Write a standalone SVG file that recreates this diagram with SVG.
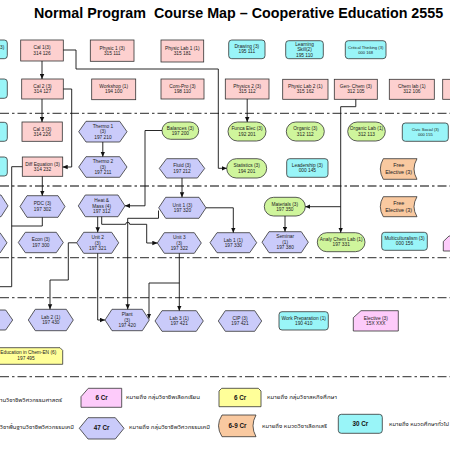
<svg xmlns="http://www.w3.org/2000/svg" width="450" height="450" viewBox="0 0 450 450">
<style>
.bg{fill:#fff}
.pk{fill:#FDD0CF;stroke:#333;stroke-width:0.8}
.cy{fill:#99F5F8;stroke:#333;stroke-width:0.8}
.hx{fill:#CACBFA;stroke:#333;stroke-width:0.8}
.gr{fill:#CFF59C;stroke:#333;stroke-width:0.8}
.or{fill:#F9C9A0;stroke:#333;stroke-width:0.8}
.ye{fill:#FFFF99;stroke:#333;stroke-width:0.8}
.mg{fill:#FDCBFA;stroke:#333;stroke-width:0.8}
text{font-family:"Liberation Sans",Arial,"Noto Sans Thai","Noto Sans","DejaVu Sans",sans-serif;fill:#222}
.t{font-size:4.8px;text-anchor:middle}
.ts{font-size:4.1px;text-anchor:middle}
.to{font-size:5.4px;text-anchor:middle}
.lg{font-size:6.3px;font-weight:bold;text-anchor:middle;fill:#111}
.th{font-size:5.8px}
.title{font-size:14.3px;font-weight:bold;fill:#000;white-space:pre}
.sep{stroke:#555;stroke-width:1.3;stroke-dasharray:9 3 2.5 3;fill:none}
.cn{stroke:#111;stroke-width:0.9;fill:none}
.ar{marker-end:url(#a)}
</style>
<defs>
<marker id="a" viewBox="0 0 10 10" refX="10" refY="5" markerWidth="5" markerHeight="5" markerUnits="userSpaceOnUse" orient="auto"><path d="M0,0.5 L10,5 L0,9.5z" fill="#111"/></marker>
</defs>
<rect class="bg" x="0" y="0" width="450" height="450"/>
<text class="title" x="34" y="17.5">Normal Program  Course Map – Cooperative Education 2555</text>

<g id="separators">
<line class="sep" x1="0" y1="113.3" x2="450" y2="113.3"/>
<line class="sep" x1="0" y1="186" x2="450" y2="186"/>
<line class="sep" x1="0" y1="257.7" x2="450" y2="257.7"/>
<line class="sep" x1="0" y1="297.7" x2="450" y2="297.7"/>
<line class="sep" x1="0" y1="376.7" x2="450" y2="376.7"/>
</g>

<!-- Row 1 -->
<g id="n-left1"><rect class="cy" x="-6" y="40" width="13.3" height="18.7" rx="3"/><text class="t" x="0" y="48.5" style="text-anchor:start">3)</text></g>
<g id="n-cal1"><rect class="pk" x="20.7" y="40" width="42.6" height="21"/><text class="t" x="42" y="49.4">Cal 1(3)</text><text class="t" x="42" y="54.6">314 126</text></g>
<g id="n-physic1"><rect class="pk" x="90.3" y="40" width="43.7" height="21.3"/><text class="t" x="112.2" y="49.5">Physic 1 (3)</text><text class="t" x="112.2" y="54.7">315 111</text></g>
<g id="n-physlab1"><rect class="pk" x="161" y="40" width="42.7" height="22"/><text class="t" x="182.3" y="49.9">Physic Lab 1 (1)</text><text class="t" x="182.3" y="55.1">315 181</text></g>
<g id="n-drawing"><rect class="cy" x="228.7" y="40" width="36.3" height="18.7" rx="3"/><text class="t" x="246.8" y="48.2">Drawing (3)</text><text class="t" x="246.8" y="53.4">195 111</text></g>
<g id="n-learning"><rect class="cy" x="285.7" y="40.7" width="37.6" height="18" rx="3"/><text class="t" x="304.5" y="45.9">Learning</text><text class="t" x="304.5" y="51.4">Skill(2)</text><text class="t" x="304.5" y="56.9">195 110</text></g>
<g id="n-critical"><rect class="cy" x="345.3" y="40.7" width="40.7" height="18" rx="3"/><text class="ts" x="365.7" y="48.6">Critical Thinking (3)</text><text class="ts" x="365.7" y="53.8">000 168</text></g>

<!-- Row 2 -->
<g id="n-left2"><rect class="cy" x="-6" y="79" width="13.3" height="19.3" rx="3"/></g>
<g id="n-cal2"><rect class="pk" x="21.7" y="79" width="41.6" height="20"/><text class="t" x="42.5" y="87.9">Cal 2 (3)</text><text class="t" x="42.5" y="93.1">314 127</text></g>
<g id="n-workshop"><rect class="pk" x="91.7" y="79" width="44" height="20.7"/><text class="t" x="113.7" y="88.2">Workshop (1)</text><text class="t" x="113.7" y="93.4">194 100</text></g>
<g id="n-compro"><rect class="pk" x="161" y="79" width="43" height="20"/><text class="t" x="182.5" y="87.9">Com-Pro (3)</text><text class="t" x="182.5" y="93.1">198 110</text></g>
<g id="n-physics2"><rect class="pk" x="225.3" y="79" width="43.7" height="20"/><text class="t" x="247.2" y="87.9">Physics 2 (3)</text><text class="t" x="247.2" y="93.1">315 112</text></g>
<g id="n-physlab2"><rect class="pk" x="282.7" y="79.3" width="45.3" height="20"/><text class="t" x="305.3" y="88.2">Physic Lab 2 (1)</text><text class="t" x="305.3" y="93.4">315 162</text></g>
<g id="n-genchem"><rect class="pk" x="334.3" y="79.3" width="43" height="20"/><text class="t" x="355.8" y="88.2">Gen- Chem (3)</text><text class="t" x="355.8" y="93.4">312 105</text></g>
<g id="n-chemlab"><rect class="pk" x="389.3" y="79.3" width="45" height="20"/><text class="t" x="411.8" y="88.2">Chem lab (1)</text><text class="t" x="411.8" y="93.4">312 106</text></g>
<g id="n-right2"><rect class="pk" x="442.7" y="79.3" width="17" height="20"/></g>

<!-- Row 3 -->
<g id="n-left3"><rect class="cy" x="-6" y="122.3" width="13.3" height="19" rx="3"/></g>
<g id="n-cal3"><rect class="pk" x="22" y="122" width="40.3" height="19.3"/><text class="t" x="42.2" y="130.6">Cal 3 (3)</text><text class="t" x="42.2" y="135.8">314 226</text></g>
<g id="n-thermo1"><polygon class="hx" points="78.7,131.7 86,121.3 119.7,121.3 127,131.7 119.7,142 86,142"/><text class="t" x="102.9" y="127.9">Thermo 1</text><text class="t" x="102.9" y="133.4">(3)</text><text class="t" x="102.9" y="138.9">197 210</text></g>
<g id="n-balances"><rect class="gr" x="162" y="122" width="36.7" height="17.3" rx="8.65"/><text class="t" x="180.3" y="129.6">Balances (3)</text><text class="t" x="180.3" y="134.8">197 200</text></g>
<g id="n-funca"><rect class="gr" x="228" y="122" width="38" height="19" rx="9.5"/><text class="t" x="247" y="130.4">Funca Elec (3)</text><text class="t" x="247" y="135.6">192 201</text></g>
<g id="n-organic"><rect class="gr" x="286.3" y="122" width="38" height="19" rx="9.5"/><text class="t" x="305.3" y="130.4">Organic (3)</text><text class="t" x="305.3" y="135.6">312 112</text></g>
<g id="n-organiclab"><rect class="gr" x="347.7" y="122" width="37.6" height="19" rx="9.5"/><text class="t" x="366.5" y="130.4">Organic Lab (1)</text><text class="t" x="366.5" y="135.6">312 113</text></g>
<g id="n-civic"><rect class="cy" x="402.3" y="123" width="46" height="18.3" rx="3"/><text class="ts" x="425.3" y="131.1">Civic Social (3)</text><text class="ts" x="425.3" y="136.3">000 155</text></g>

<!-- Row 4 -->
<g id="n-left4"><rect class="cy" x="-6" y="157" width="13.3" height="19" rx="3"/></g>
<g id="n-diffeq"><rect class="pk" x="22.3" y="157" width="40.4" height="19.3"/><text class="t" x="42.5" y="165.6">Diff Equation (3)</text><text class="t" x="42.5" y="170.8">314 232</text></g>
<g id="n-thermo2"><polygon class="hx" points="78.7,167 86,156.7 119.7,156.7 127,167 119.7,177.3 86,177.3"/><text class="t" x="102.9" y="163.2">Thermo 2</text><text class="t" x="102.9" y="168.7">(3)</text><text class="t" x="102.9" y="174.2">197 211</text></g>
<g id="n-fluid"><polygon class="hx" points="159.3,168.4 166.6,158.7 197.4,158.7 204.7,168.4 197.4,178 166.6,178"/><text class="t" x="182" y="167.3">Fluid (3)</text><text class="t" x="182" y="172.5">197 212</text></g>
<g id="n-statistics"><rect class="gr" x="226.7" y="158.7" width="40" height="19.3" rx="9.6"/><text class="t" x="246.7" y="167.3">Statistics (3)</text><text class="t" x="246.7" y="172.5">194 201</text></g>
<g id="n-leadership"><rect class="cy" x="286.7" y="158.7" width="41.3" height="18.6" rx="3"/><text class="t" x="307.3" y="166.9">Leadership (3)</text><text class="t" x="307.3" y="172.1">000 145</text></g>
<g id="n-free1"><path class="or" d="M383.3,158.7 H417 Q411,169 417,179.3 H383.3 Q377.3,169 383.3,158.7 Z"/><text class="to" x="398.7" y="167.4">Free</text><text class="to" x="398.7" y="174.3">Elective (3)</text></g>

<!-- Row 5 -->
<g id="n-left5"><polygon class="hx" points="-40,205.9 -33,195 1,195 8,205.9 1,216.7 -33,216.7"/></g>
<g id="n-pdc"><polygon class="hx" points="20,206.5 27,195.7 58,195.7 65,206.5 58,217.3 27,217.3"/><text class="t" x="42.5" y="205.4">PDC (3)</text><text class="t" x="42.5" y="210.6">197 302</text></g>
<g id="n-heatmass"><polygon class="hx" points="78.3,205.9 85.3,195 118,195 125,205.9 118,216.7 85.3,216.7"/><text class="t" x="101.7" y="202.1">Heat &amp;</text><text class="t" x="101.7" y="207.6">Mass (4)</text><text class="t" x="101.7" y="213.1">197 312</text></g>
<g id="n-unit1"><polygon class="hx" points="158.7,207.8 165.7,197.3 199,197.3 206,207.8 199,218.3 165.7,218.3"/><text class="t" x="182.4" y="206.7">Unit 1 (3)</text><text class="t" x="182.4" y="211.9">197 320</text></g>
<g id="n-materials"><rect class="gr" x="264.3" y="197.3" width="41" height="18.7" rx="9.3"/><text class="t" x="284.8" y="205.6">Materials (3)</text><text class="t" x="284.8" y="210.8">197 350</text></g>
<g id="n-free2"><path class="or" d="M383.3,196.7 H417 Q411,206.7 417,216.7 H383.3 Q377.3,206.7 383.3,196.7 Z"/><text class="to" x="398.7" y="205.1">Free</text><text class="to" x="398.7" y="212">Elective (3)</text></g>

<!-- Row 6 -->
<g id="n-left6"><polygon class="hx" points="-40,242.8 -33,232.7 0,232.7 7,242.8 0,253 -33,253"/></g>
<g id="n-econ"><polygon class="hx" points="18.3,242.5 25.3,232.3 56.3,232.3 63.3,242.5 56.3,252.7 25.3,252.7"/><text class="t" x="40.8" y="241.4">Econ (3)</text><text class="t" x="40.8" y="246.6">197 300</text></g>
<g id="n-unit2"><polygon class="hx" points="76.7,242.8 83.7,232.3 111.7,232.3 118.7,242.8 111.7,253.3 83.7,253.3"/><text class="t" x="97.7" y="239">Unit 2</text><text class="t" x="97.7" y="244.5">(3)</text><text class="t" x="97.7" y="250">197 321</text></g>
<g id="n-unit3"><polygon class="hx" points="157.3,243 164.3,232.7 194.3,232.7 201.3,243 194.3,253.3 164.3,253.3"/><text class="t" x="179.3" y="239.2">Unit 3</text><text class="t" x="179.3" y="244.7">(3)</text><text class="t" x="179.3" y="250.2">197 322</text></g>
<g id="n-lab1"><polygon class="hx" points="210,242.7 217,232.7 249.7,232.7 256.7,242.7 249.7,252.7 217,252.7"/><text class="t" x="233.3" y="241.6">Lab 1 (1)</text><text class="t" x="233.3" y="246.8">197 330</text></g>
<g id="n-seminar"><polygon class="hx" points="262,242.2 269,231.7 301.3,231.7 308.3,242.2 301.3,252.7 269,252.7"/><text class="t" x="285.2" y="238.4">Seminar</text><text class="t" x="285.2" y="243.9">(1)</text><text class="t" x="285.2" y="249.4">197 380</text></g>
<g id="n-analychem"><rect class="gr" x="317.3" y="232.7" width="47.7" height="19" rx="9.5"/><text class="t" x="341.2" y="241.1">Analy Chem Lab (1)</text><text class="t" x="341.2" y="246.3">197 331</text></g>
<g id="n-multicult"><rect class="cy" x="381.7" y="232.3" width="45.6" height="18" rx="3"/><text class="t" x="404.5" y="240.2">Multiculturalism (3)</text><text class="t" x="404.5" y="245.4">000 156</text></g>
<g id="n-right6"><path class="mg" d="M443.3,241.5 L449,236 H460 V251 H443.3 Z"/></g>

<!-- Row 7 -->
<g id="n-left7"><polygon class="hx" points="-35,320 -28,310 5.7,310 12.7,320 5.7,330 -28,330"/></g>
<g id="n-lab2"><polygon class="hx" points="28.3,320 35.3,309.3 66.3,309.3 73.3,320 66.3,330.7 35.3,330.7"/><text class="t" x="50.8" y="318.9">Lab 2 (1)</text><text class="t" x="50.8" y="324.1">197 430</text></g>
<g id="n-plant"><polygon class="hx" points="105,320 112,309.3 142.3,309.3 149.3,320 142.3,330.7 112,330.7"/><text class="t" x="127.2" y="316.2">Plant</text><text class="t" x="127.2" y="321.7">(3)</text><text class="t" x="127.2" y="327.2">197 420</text></g>
<g id="n-lab3"><polygon class="hx" points="155,321 162,310.7 196.3,310.7 203.3,321 196.3,331.3 162,331.3"/><text class="t" x="179.2" y="319.9">Lab 3 (1)</text><text class="t" x="179.2" y="325.1">197 421</text></g>
<g id="n-cip"><polygon class="hx" points="218.3,321 225.3,310.7 254.7,310.7 261.7,321 254.7,331.3 225.3,331.3"/><text class="t" x="240" y="319.9">CIP (3)</text><text class="t" x="240" y="325.1">197 421</text></g>
<g id="n-workprep"><rect class="cy" x="279" y="311.7" width="49.3" height="18.3" rx="3"/><text class="t" x="303.7" y="319.8">Work Preparation (1)</text><text class="t" x="303.7" y="325">190 410</text></g>
<g id="n-elective"><path class="mg" d="M353.3,317.7 L361,310.7 H398.3 V331 H353.3 Z"/><text class="t" x="375.8" y="319.8">Elective (3)</text><text class="t" x="375.8" y="325">15X XXX</text></g>

<!-- Row 8 -->
<g id="n-coop"><path class="ye" d="M-20,347.7 H60 L62.7,350.4 V364.3 H-20 Z"/><text class="t" x="0.3" y="354" style="text-anchor:start">Education in Chem-EN (6)</text><text class="t" x="17.3" y="360.4" style="text-anchor:start">197 495</text></g>

<!-- Connectors -->
<g id="connectors">
<path class="cn ar" d="M42,61 V79"/>
<path class="cn ar" d="M42,99 V122"/>
<path class="cn ar" d="M63.3,50 H76 V69 H218.3 V168.3 H226.7"/>
<path class="cn ar" d="M63.3,89 H71.7 V167 H62.7"/>
<path class="cn ar" d="M102.8,142 V156.7"/>
<path class="cn ar" d="M42.3,176.3 V195.7"/>
<path class="cn ar" d="M162,130.5 H145 V205.8 H125"/>
<path class="cn ar" d="M182,178 V197.3"/>
<path class="cn ar" d="M247.2,99 V122"/>
<path class="cn ar" d="M355.8,99.3 V106.7 H340.7 V232.7"/>
<path class="cn ar" d="M340.7,206.7 H305.3"/>
<path class="cn ar" d="M285,216 V231.7"/>
<path class="cn ar" d="M206,207.8 H233.3 V232.7"/>
<path class="cn ar" d="M97.7,216.7 V232.3"/>
<path class="cn ar" d="M101.7,216.7 V224.3 H125.7 A2,2 0 0 1 129.7,224.3 H146.7 V243 H157.3"/>
<path class="cn ar" d="M158.5,210.5 V218.3 H127.7 V309.3"/>
<path class="cn ar" d="M97.7,253.3 V320 H105"/>
<path class="cn ar" d="M76.7,242.8 H68.3 V280 H50 V309.3"/>
<path class="cn ar" d="M179.3,253.3 V310.7"/>
<path class="cn ar" d="M179.3,283 H149 V318.5"/>
<path class="cn" d="M22.3,166.7 H11.7 V286.7 H0"/>
<path class="cn" d="M42.3,217.3 V226 H11.7"/>
</g>

<!-- Legend -->
<g id="legend">
<text class="th" x="0" y="402" textLength="62" lengthAdjust="spacingAndGlyphs">านวิชาชีพวิศวกรรมศาสตร์</text>
<g id="lg-pink"><path class="mg" d="M81,396.7 L88.3,388.3 H121.7 V407.3 H81 Z"/><text class="lg" x="101.5" y="399.6">6 Cr</text></g>
<text class="th" x="126" y="399" textLength="74" lengthAdjust="spacingAndGlyphs">หมายถึง กลุ่มวิชาชีพเลือกเรียน</text>
<g id="lg-yellow"><path class="ye" d="M219,391 L221.7,388.3 H258.3 L261,391 V406.7 H219 Z"/><text class="lg" x="240" y="399.9">6 Cr</text></g>
<text class="th" x="267" y="399.3" textLength="70" lengthAdjust="spacingAndGlyphs">หมายถึง กลุ่มวิชาสหกิจศึกษา</text>
<text class="th" x="0" y="428.5" textLength="74" lengthAdjust="spacingAndGlyphs">วิชาพื้นฐานวิชาชีพวิศวกรรมเคมี</text>
<g id="lg-hex"><polygon class="hx" points="79.3,428.3 88,417.7 115.3,417.7 124,428.3 115.3,439 88,439"/><text class="lg" x="101.7" y="430.3">47 Cr</text></g>
<text class="th" x="129" y="429.4" textLength="81" lengthAdjust="spacingAndGlyphs">หมายถึง กลุ่มวิชาชีพวิศวกรรมเคมี</text>
<g id="lg-orange"><path class="or" d="M222,415 H256 Q250,425.8 256,436.7 H222 Q215,425.8 222,415 Z"/><text class="lg" x="237.5" y="428.3">6-9 Cr</text></g>
<text class="th" x="262" y="427.7" textLength="65" lengthAdjust="spacingAndGlyphs">หมายถึง หมวดวิชาเลือกเสรี</text>
<g id="lg-cyan"><rect class="cy" x="338.3" y="414.3" width="44" height="19" rx="3"/><text class="lg" x="360.3" y="425.5">30 Cr</text></g>
<text class="th" x="389" y="425.7" textLength="60" lengthAdjust="spacingAndGlyphs">หมายถึง หมวดศึกษาทั่วไป</text>
</g>
</svg>
